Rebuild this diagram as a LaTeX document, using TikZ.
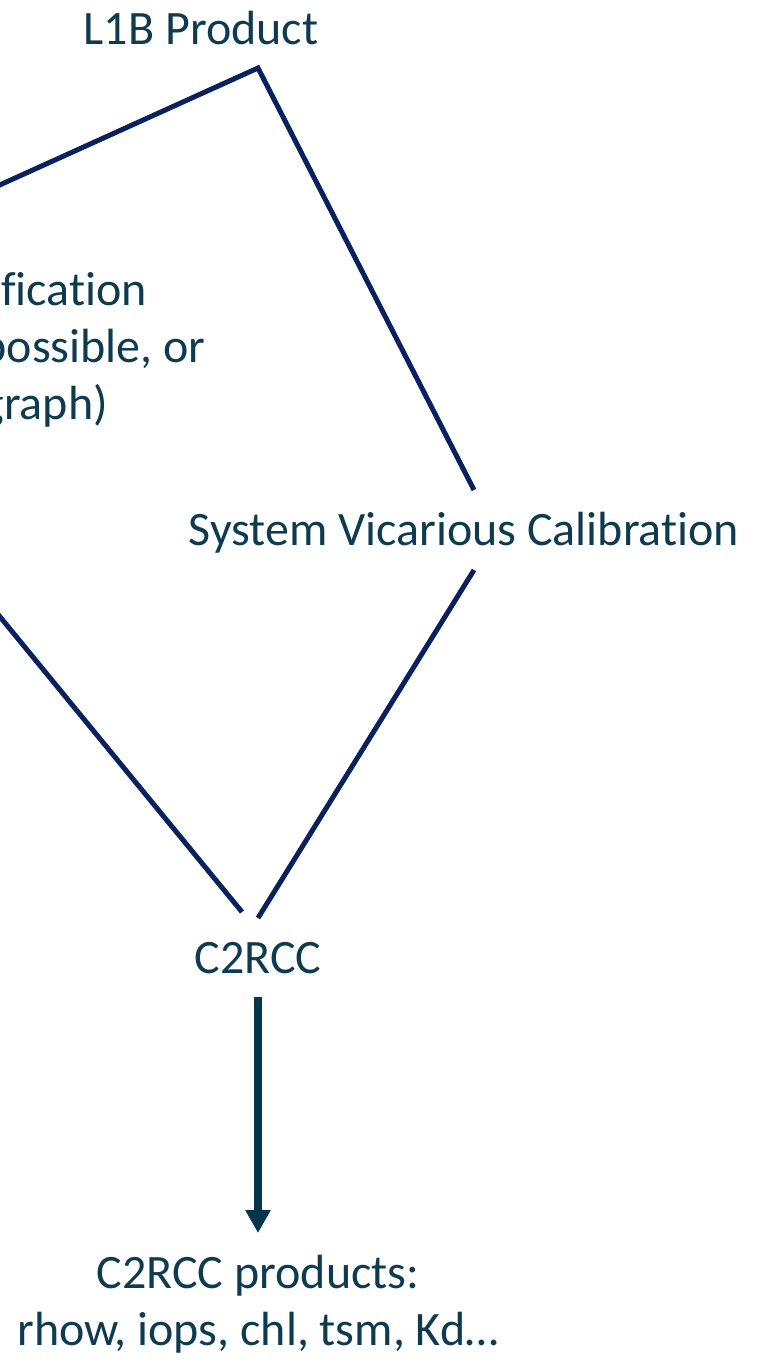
\documentclass[tikz,border=0pt]{standalone}
\usepackage{fontspec}
\setmainfont{Carlito}[Ligatures=NoCommon]
\usetikzlibrary{positioning, arrows.meta, calc}
\definecolor{txtblue}{HTML}{0E3B50}
\definecolor{linenavy}{HTML}{0A215E}
\definecolor{arrowteal}{HTML}{05354A}
\tikzset{
  >={Triangle[length=23pt, width=24pt]},
  lbl/.style={text=txtblue, font=\fontsize{48}{57}\selectfont, inner sep=0pt, anchor=base},
  link/.style={draw=linenavy, line width=5pt},
  flow/.style={draw=arrowteal, line width=8pt, ->},
}

\begin{document}
\begin{tikzpicture}[x=1pt, y=-1pt]
      \useasboundingbox (0,0) rectangle (759,1362);
      \clip (0,0) rectangle (759,1362);
      \node[lbl] (l1b) at (201,45) {L1B Product};
      \node[lbl, anchor=base east] (pix1) at (147,305) {ification};
      \node[lbl, anchor=base east] (pix2) at (206,362) {possible, or};
      \node[lbl, anchor=base east] (pix3) at (108,419) {graph)};
      \node[lbl] (svc) at (464,545) {System Vicarious Calibration};
      \node[lbl] (c2rcc) at (258,973) {C2RCC};
      % base of a two-line node is its last line
      \node[lbl, align=center] (prod) at (258,1345) {C2RCC products:\\rhow, iops, chl, tsm, Kd…};

      % connectors
      \coordinate (topv) at (258,68);
      \coordinate (svcN) at (474,490);
      \coordinate (svcS) at (474,570);
      \coordinate (c2L) at (242,912);
      \coordinate (c2R) at (258,918);
      \draw[link] (-40,203) -- (topv) -- (svcN);
      \draw[link] (-40,568) -- (c2L);
      \draw[link] (svcS) -- (c2R);
      \draw[flow] ($(c2rcc.base)+(0,24)$) -- ($(c2rcc.base)+(0,260)$);
    \end{tikzpicture}
\end{document}
